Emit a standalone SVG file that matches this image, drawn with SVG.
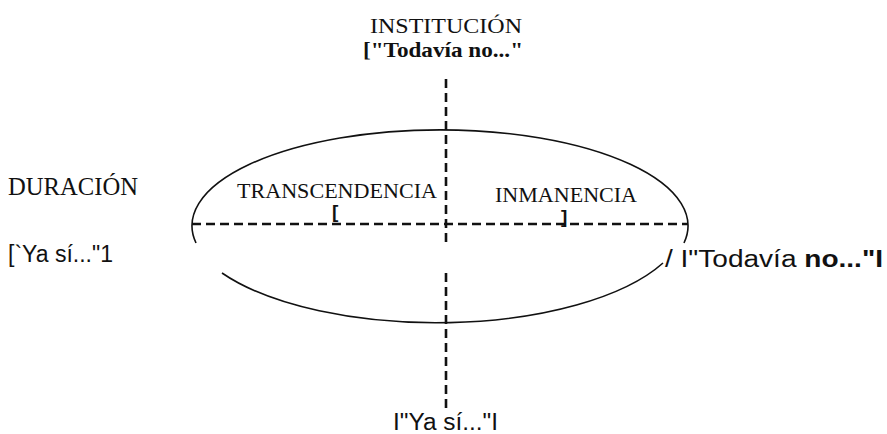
<svg xmlns="http://www.w3.org/2000/svg" width="887" height="434" viewBox="0 0 887 434">
<style>
.serif{font-family:"Liberation Serif","Times New Roman",serif;fill:#111}
.sans{font-family:"Liberation Sans",Arial,sans-serif;fill:#111}
.brk{font-family:"Liberation Sans",Arial,sans-serif;fill:#111;font-size:19px;font-weight:bold}
.curve{fill:none;stroke:#111;stroke-width:1.6}
.dash{fill:none;stroke:#111;stroke-width:2.6;stroke-dasharray:9 5}
</style>
<rect width="887" height="434" fill="#fff"/>
<g id="ellipse">
<path class="curve" d="M196,243 A248,96 0 1 1 684,243"/>
<path class="curve" d="M222,273 A250,103 0 0 0 663,263"/>
</g>
<g id="connectors">
<line class="dash" x1="192" y1="224" x2="688" y2="224"/>
<line class="dash" x1="446" y1="79" x2="446" y2="245"/>
<line class="dash" x1="446" y1="273" x2="446" y2="408"/>
</g>
<g id="institucion">
<text class="serif" x="370" y="33" font-size="22" textLength="152" lengthAdjust="spacingAndGlyphs">INSTITUCIÓN</text>
<text class="serif" x="363" y="57" font-size="22" font-weight="bold" textLength="160" lengthAdjust="spacingAndGlyphs">["Todavía no..."</text>
</g>
<g id="duracion">
<text class="serif" x="8" y="195" font-size="25" textLength="130" lengthAdjust="spacingAndGlyphs">DURACIÓN</text>
<text class="sans" x="8" y="262" font-size="23" textLength="105" lengthAdjust="spacingAndGlyphs">[`Ya sí..."1</text>
</g>
<g id="transcendencia">
<text class="serif" x="237" y="198" font-size="21" textLength="200" lengthAdjust="spacingAndGlyphs">TRANSCENDENCIA</text>
<text class="brk" x="332" y="218">[</text>
</g>
<g id="inmanencia">
<text class="serif" x="495" y="202" font-size="22" textLength="142" lengthAdjust="spacingAndGlyphs">INMANENCIA</text>
<text class="brk" x="561" y="223">]</text>
</g>
<g id="todavia-right">
<text class="sans" x="665" y="267" font-size="23" textLength="218" lengthAdjust="spacingAndGlyphs">/ I"Todavía <tspan font-weight="bold">no..."I</tspan></text>
</g>
<g id="yasi-bottom">
<text class="sans" x="393" y="430" font-size="23" textLength="105" lengthAdjust="spacingAndGlyphs">I"Ya sí..."I</text>
</g>
</svg>
